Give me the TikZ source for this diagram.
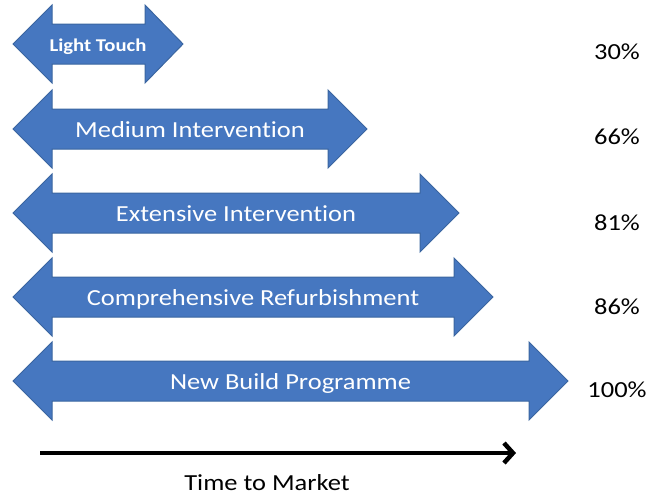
\documentclass[tikz,border=0pt]{standalone}
\usepackage{fontspec}
\setmainfont{Carlito}[Ligatures=NoCommon,FakeStretch=1.15]
\usetikzlibrary{arrows.meta}
\definecolor{barfill}{HTML}{4677C0}
\definecolor{barline}{HTML}{3A65A0}
\tikzset{
  bar/.style={fill=barfill,draw=barline,line width=1pt,line join=miter},
  barlabel/.style={text=white,font=\fontsize{23}{27}\selectfont,inner sep=0pt,anchor=base},
  smalllabel/.style={text=white,font=\bfseries\fontsize{18}{21}\selectfont,inner sep=0pt,anchor=base},
  pct/.style={font=\fontsize{23}{27}\selectfont,inner sep=0pt,anchor=base},
}
% double-headed bar: centre y, right head base x, right tip x
\newcommand\timebar[3]{%
  \draw[bar] (13,#1) -- (52,#1-39) -- (52,#1-20) -- (#2,#1-20) -- (#2,#1-39)
    -- (#3,#1) -- (#2,#1+39) -- (#2,#1+20) -- (52,#1+20) -- (52,#1+39) -- cycle;}
\begin{document}
\begin{tikzpicture}[x=1pt,y=-1pt]
  \useasboundingbox (0,0) rectangle (651,496);

  \timebar{44}{145}{183}
  \timebar{129}{328}{367}
  \timebar{213}{420}{459}
  \timebar{297}{454}{493}
  \timebar{381}{529}{568}

  \node[smalllabel] (light)  at (98,51)    {Light Touch};
  \node[barlabel]   (medium) at (190,137)  {Medium Intervention};
  \node[barlabel]   (ext)    at (236,221)  {Extensive Intervention};
  \node[barlabel]   (comp)   at (253,305)  {Comprehensive Refurbishment};
  \node[barlabel]   (build)  at (290.5,389){New Build Programme};

  \node[pct] (p30)  at (617,59)  {30\%};
  \node[pct] (p66)  at (617,144) {66\%};
  \node[pct] (p81)  at (617,230) {81\%};
  \node[pct] (p86)  at (617,314) {86\%};
  \node[pct] (p100) at (617,397) {100\%};

  % time axis
  \coordinate (axisstart) at (40,453);
  \coordinate (axisend)   at (516,453);
  \draw[line width=4.5pt,-{Straight Barb[length=9pt,width=20pt]}] (axisstart) -- (axisend);
  \node[pct] (time) at (267,490.5) {Time to Market};
\end{tikzpicture}
\end{document}
